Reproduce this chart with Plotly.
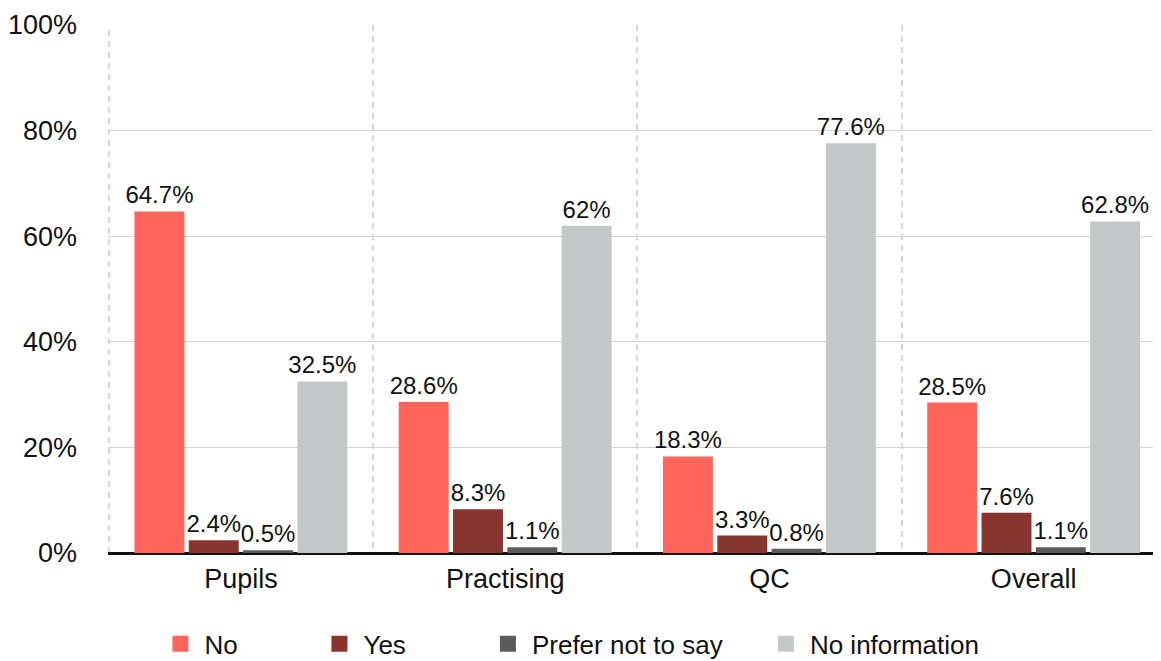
import plotly.graph_objects as go

categories = ["Pupils", "Practising", "QC", "Overall"]
series_names = ["No", "Yes", "Prefer not to say", "No information"]
no_vals = [64.7, 28.6, 18.3, 28.5]
yes_vals = [2.4, 8.3, 3.3, 7.6]
prefer_vals = [0.5, 1.1, 0.8, 1.1]
noinfo_vals = [32.5, 62, 77.6, 62.8]
colors = ["#FF645A", "#883530", "#5B5B5B", "#C4C7C7"]
y_ticks = [0, 20, 40, 60, 80, 100]
y_tick_labels = ["0%", "20%", "40%", "60%", "80%", "100%"]

FONT = "Liberation Sans, Arial, sans-serif"
legend_ids = ["legend", "legend2", "legend3", "legend4"]
legend_x = [0.046, 0.197, 0.357, 0.621]
GRID_DASH_COLOR = "#D6D6D6"

fig = go.Figure()
for name, vals, col, lg in zip(series_names, [no_vals, yes_vals, prefer_vals, noinfo_vals], colors, legend_ids):
    fig.add_trace(go.Bar(
        x=categories, y=vals, name=name, marker=dict(color=col, line=dict(width=0)),
        texttemplate="%{y}%", textposition="outside", cliponaxis=False, constraintext="none",
        textfont=dict(size=24, color="#111111", family=FONT), showlegend=False,
    ))
    # legend entry (large square swatch)
    fig.add_trace(go.Scatter(
        x=[None], y=[None], mode="markers", name=name, legend=lg,
        marker=dict(symbol="square", size=26, color=col), showlegend=True,
    ))

leg_common = dict(orientation="h", yanchor="middle", y=-0.172, xanchor="left",
                  font=dict(size=26, family=FONT, color="#111111"), itemsizing="trace",
                  itemwidth=38, bgcolor="rgba(0,0,0,0)")
layout_legends = {}
for lg, lx in zip(legend_ids, legend_x):
    layout_legends[lg] = dict(leg_common, x=lx)

# left-edge category boundary (dashed, like the other boundaries)
fig.add_shape(type="line", xref="paper", yref="paper", x0=0.001, x1=0.001, y0=0, y1=1,
              line=dict(color=GRID_DASH_COLOR, width=2, dash="6px,5px"), layer="below")

# The page body adds an 8px offset, so the figure is sized to fit the window.
fig.update_layout(
    width=1153, height=653,
    margin=dict(l=100, r=0, t=17, b=108, autoexpand=False),
    paper_bgcolor="white", plot_bgcolor="white",
    barmode="group", bargap=0.178, bargroupgap=0.08,
    font=dict(family=FONT, size=26, color="#111111"),
    **layout_legends,
    xaxis=dict(tickson="boundaries", showgrid=True, gridcolor=GRID_DASH_COLOR, griddash="6px,5px",
               gridwidth=2, ticks="", tickfont=dict(size=27), showline=False, zeroline=False,
               range=[-0.503, 3.482], automargin=False, ticklabelstandoff=7),
    yaxis=dict(range=[0, 100], tickvals=y_ticks, ticktext=y_tick_labels, showgrid=True,
               gridcolor="#D3D3D3", gridwidth=1, zeroline=True, zerolinecolor="#111111",
               zerolinewidth=3, ticks="", tickfont=dict(size=27), ticklabelstandoff=30,
               automargin=False),
)

fig.write_html("out.html")
